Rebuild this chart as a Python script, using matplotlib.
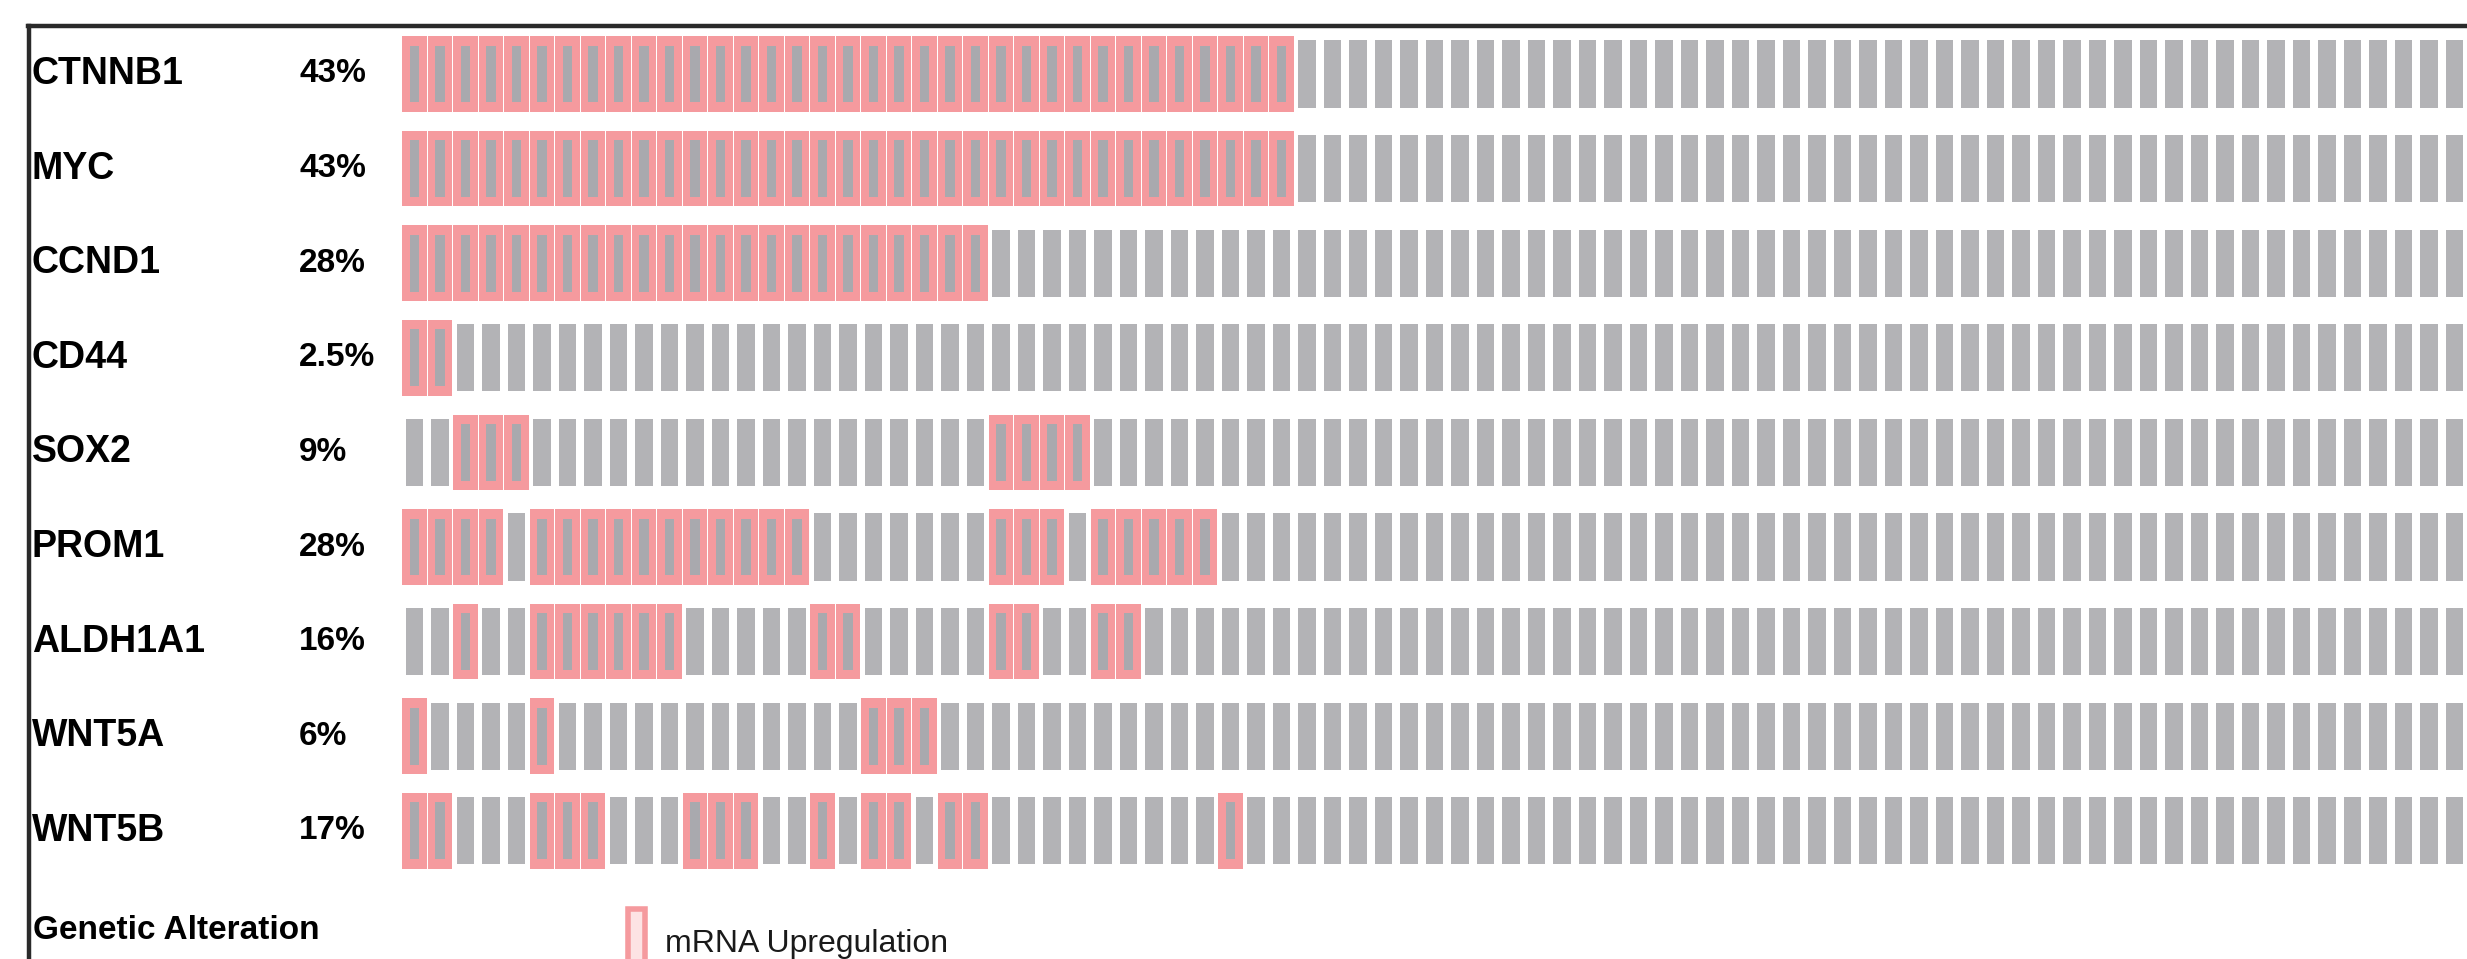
# oncoprint-style grid: mRNA upregulation of stemness / Wnt genes across samples
import numpy as np
import matplotlib.pyplot as plt
from matplotlib.lines import Line2D
from matplotlib.patches import Rectangle

plt.rcParams['font.family'] = ['Liberation Sans', 'DejaVu Sans']

genes = ['CTNNB1', 'MYC', 'CCND1', 'CD44', 'SOX2', 'PROM1', 'ALDH1A1', 'WNT5A', 'WNT5B']
pct_labels = ['43%', '43%', '28%', '2.5%', '9%', '28%', '16%', '6%', '17%']
n_samples = 81

# altered samples per gene, as (first, last) column runs
ctnnb1_runs = [(0, 34)]
myc_runs = [(0, 34)]
ccnd1_runs = [(0, 22)]
cd44_runs = [(0, 1)]
sox2_runs = [(2, 4), (23, 26)]
prom1_runs = [(0, 3), (5, 15), (23, 25), (27, 31)]
aldh1a1_runs = [(2, 2), (5, 10), (16, 17), (23, 24), (27, 28)]
wnt5a_runs = [(0, 0), (5, 5), (18, 20)]
wnt5b_runs = [(0, 1), (5, 7), (11, 13), (16, 16), (18, 19), (21, 22), (32, 32)]
runs = [ctnnb1_runs, myc_runs, ccnd1_runs, cd44_runs, sox2_runs,
        prom1_runs, aldh1a1_runs, wnt5a_runs, wnt5b_runs]

GRAY = '#b3b3b6'
INNER = '#a9a9ae'
PINK = '#f59a9e'

W, H = 2467, 959
fig = plt.figure(figsize=(W / 100, H / 100), dpi=100)
ax = fig.add_axes([0, 0, 1, 1])

# pixel layout of the grid: first column centre / column pitch, first row centre / row pitch
x0, xp = 414.5, 25.5
y0, yp = 74, 94.6
ax.set_xlim(-x0 / xp, (W - x0) / xp)
ax.set_ylim((H - y0) / yp, -y0 / yp)
ax.axis('off')


def px_x(px):
    return (px - x0) / xp


def px_y(px):
    return (px - y0) / yp


cols = np.arange(n_samples)
for r, gene in enumerate(genes):
    hit = np.zeros(n_samples, dtype=bool)
    for a, b in runs[r]:
        hit[a:b + 1] = True
    # plain grey cells
    h = 0.71
    ax.bar(cols[~hit], h, bottom=r - h / 2, width=0.70, color=GRAY, linewidth=0)
    # upregulated: pink frame with narrow grey core
    h = 0.80
    ax.bar(cols[hit], h, bottom=r - h / 2, width=0.95, color=PINK, linewidth=0)
    h = 0.60
    ax.bar(cols[hit], h, bottom=r - h / 2, width=0.38, color=INNER, linewidth=0)

    ax.text(px_x(32), r, gene, fontsize=27, fontweight='bold', va='center', ha='left')
    ax.text(px_x(299), r, pct_labels[r], fontsize=24, fontweight='bold', va='center', ha='left')

# frame lines (top and left)
fig.add_artist(Line2D([28 / W, 1], [1 - 26 / H, 1 - 26 / H], color='#2a2a2a', lw=3.2))
fig.add_artist(Line2D([29 / W, 29 / W], [0, 1 - 26 / H], color='#2a2a2a', lw=3.2))

# legend
ax.text(px_x(33), px_y(930), 'Genetic Alteration', fontsize=24, fontweight='bold',
        va='center', ha='left')
ax.add_patch(Rectangle((px_x(628), px_y(909)), 17 / xp, 70 / yp,
                       facecolor='#fde3e4', edgecolor=PINK, linewidth=4))
ax.text(px_x(665), px_y(952), 'mRNA Upregulation', fontsize=23, va='baseline', ha='left',
        color='#1a1a1a')

plt.savefig('out.png', dpi=100)
